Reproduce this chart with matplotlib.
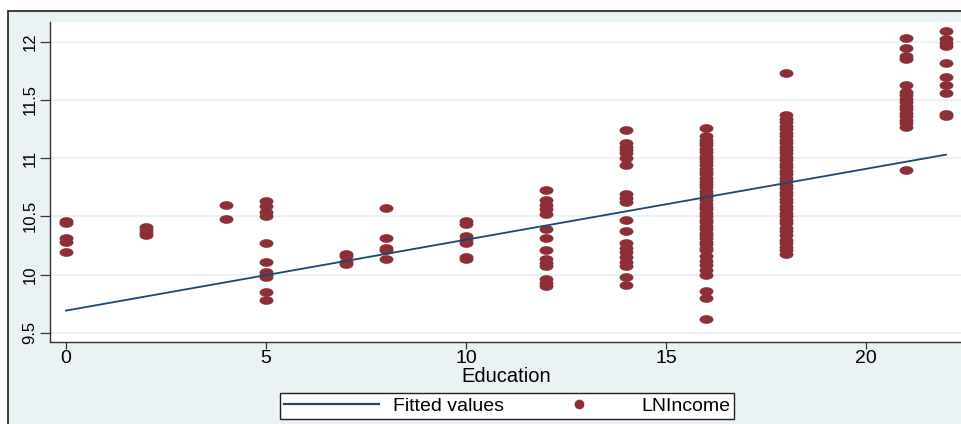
import matplotlib
matplotlib.use("Agg")
import matplotlib.pyplot as plt
from matplotlib.lines import Line2D
from matplotlib.patches import Rectangle
from matplotlib.path import Path
from matplotlib.legend_handler import HandlerLine2D

plt.rcParams['font.family'] = ['Liberation Sans', 'DejaVu Sans']

# years of education and the log incomes observed at each level
educ = [0, 2, 4, 5, 7, 8, 10, 12, 14, 16, 18, 21, 22]
lnincome = [
    [10.46, 10.44, 10.31, 10.28, 10.19],
    [10.41, 10.38, 10.36, 10.34],
    [10.60, 10.48],
    [10.63, 10.59, 10.54, 10.50, 10.27, 10.11, 10.02, 10.00, 9.98, 9.85, 9.78],
    [10.18, 10.16, 10.11, 10.09],
    [10.57, 10.31, 10.23, 10.21, 10.13],
    [10.46, 10.43, 10.33, 10.30, 10.27, 10.15, 10.13],
    [10.73, 10.64, 10.60, 10.56, 10.52, 10.39, 10.31, 10.21, 10.13, 10.10,
     10.07, 9.96, 9.93, 9.90],
    [11.245, 11.13, 11.10, 11.07, 11.04, 11.005, 10.945, 10.69, 10.66, 10.62,
     10.47, 10.37, 10.27, 10.23, 10.19, 10.15, 10.11, 10.07, 9.98, 9.91],
    [11.26, 11.19, 11.16, 11.13, 11.11, 11.08, 11.05, 11.02, 10.99, 10.97,
     10.94, 10.91, 10.88, 10.86, 10.83, 10.80, 10.78, 10.75, 10.72, 10.69,
     10.67, 10.64, 10.61, 10.58, 10.56, 10.53, 10.50, 10.47, 10.45, 10.42,
     10.39, 10.36, 10.34, 10.31, 10.28, 10.26, 10.23, 10.21, 10.16, 10.12,
     10.08, 10.04, 10.00, 9.86, 9.80, 9.62],
    [11.73, 11.37, 11.34, 11.31, 11.28, 11.25, 11.22, 11.19, 11.16, 11.13,
     11.10, 11.07, 11.04, 11.01, 10.98, 10.95, 10.92, 10.89, 10.86, 10.83,
     10.80, 10.77, 10.74, 10.71, 10.68, 10.65, 10.62, 10.59, 10.56, 10.53,
     10.50, 10.47, 10.44, 10.40, 10.37, 10.34, 10.30, 10.27, 10.24, 10.21,
     10.18],
    [12.03, 11.95, 11.88, 11.85, 11.63, 11.57, 11.54, 11.51, 11.48, 11.45,
     11.42, 11.39, 11.36, 11.33, 11.30, 11.27, 10.90],
    [12.09, 12.02, 11.99, 11.96, 11.82, 11.70, 11.63, 11.56, 11.38, 11.36],
]

# fitted regression line endpoints
fit_x = [0, 22]
fit_y = [9.69, 11.03]

yticks = [9.5, 10, 10.5, 11, 11.5, 12]
ytick_labels = ['9.5', '10', '10.5', '11', '11.5', '12']
xticks = [0, 5, 10, 15, 20]

bg = '#eaf2f3'
maroon = '#8c2f37'
navy = '#1a476f'

xs = [e for e, vals in zip(educ, lnincome) for _ in vals]
ys = [v for vals in lnincome for v in vals]

# slightly wide ellipse marker
circ = Path.unit_circle()
oval = Path(circ.vertices * [1.6, 1.0], circ.codes)

fig = plt.figure(figsize=(9.62, 4.24), dpi=100)
fig.patch.set_facecolor('white')
fig.patches.append(Rectangle((8 / 962, -0.1), 1.2, 1 - 11 / 424 + 0.1,
                             transform=fig.transFigure, facecolor=bg,
                             edgecolor='#1e1e1e', linewidth=1.2, zorder=-5))

ax = fig.add_axes([50 / 962, 1 - 342 / 424, 1 - 50 / 962, (342 - 22) / 424])
ax.set_zorder(2)
ax.set_facecolor('white')

ax.plot(fit_x, fit_y, color=navy, linewidth=1.3, zorder=3)
ax.plot(xs, ys, linestyle='none', marker=oval, markersize=10,
        color=maroon, markeredgewidth=0, zorder=2)

ax.set_xlim(-0.4, 22.4)
ax.set_ylim(9.42, 12.17)
ax.set_yticks(yticks)
ax.set_yticklabels(ytick_labels, rotation=90, va='center', fontsize=12)
ax.set_xticks(xticks)
ax.tick_params(axis='x', labelsize=14, length=5, width=0.9, color='#333333', pad=1)
ax.tick_params(axis='y', length=7, width=0.9, color='#333333', pad=2)
ax.grid(axis='y', color=bg, linewidth=1.6)
ax.set_axisbelow(True)

for side in ('top', 'right'):
    ax.spines[side].set_visible(False)
for side in ('left', 'bottom'):
    ax.spines[side].set_color('#333333')
    ax.spines[side].set_linewidth(1.0)

ax.set_xlabel('Education', fontsize=14.5, labelpad=0)


class RightDot(HandlerLine2D):
    def get_xdata(self, legend, xdescent, ydescent, width, height, fontsize):
        xdata, _ = super().get_xdata(legend, xdescent, ydescent, width, height, fontsize)
        return xdata, [-xdescent + 0.97 * width]


h_fit = Line2D([], [], color=navy, linewidth=1.6)
h_dot = Line2D([], [], linestyle='none', marker='o', markersize=7,
               color=maroon, markeredgewidth=0)
leg = fig.legend([h_fit, h_dot], ['Fitted values', 'LNIncome'],
                 loc='center', bbox_to_anchor=(507 / 962, 1 - 406 / 424),
                 ncol=2, fontsize=14, handlelength=4.9, handletextpad=0.75,
                 columnspacing=1.4, borderpad=0.2, fancybox=False,
                 framealpha=1, edgecolor='#1e1e1e',
                 handler_map={h_dot: RightDot(numpoints=1)})
leg.get_frame().set_linewidth(1.0)

fig.savefig('out.png', dpi=100)
